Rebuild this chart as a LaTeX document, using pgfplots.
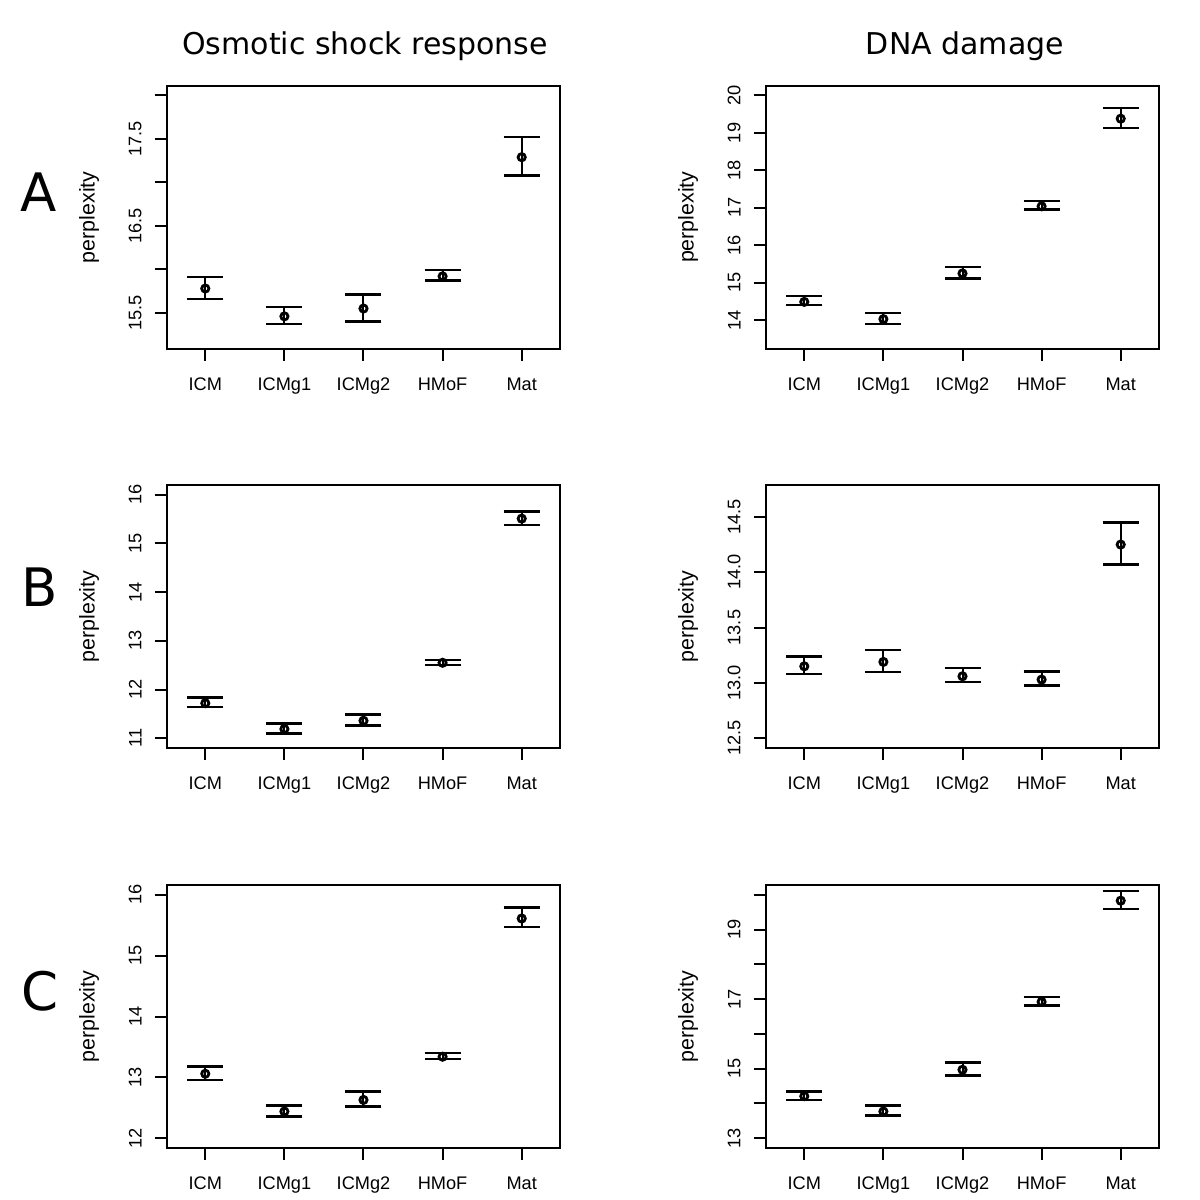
\documentclass[border=0pt]{standalone}
\usepackage{fontspec}
\setmainfont{Liberation Sans}
\newfontfamily\dejavu{DejaVu Sans}
\usepackage{pgfplots}
\usepackage{pgfplotstable}
\pgfplotsset{compat=1.18}

\pgfplotstableread{
x y ep em
1 15.78 0.135 0.12
2 15.46 0.11 0.09
3 15.55 0.16 0.15
4 15.92 0.07 0.05
5 17.29 0.23 0.21
}\osmoA
\pgfplotstableread{
x y ep em
1 14.49 0.15 0.08
2 14.03 0.17 0.13
3 15.25 0.17 0.14
4 17.04 0.14 0.08
5 19.38 0.28 0.25
}\dnaA
\pgfplotstableread{
x y ep em
1 11.72 0.12 0.08
2 11.19 0.11 0.09
3 11.36 0.13 0.10
4 12.55 0.06 0.04
5 15.51 0.15 0.13
}\osmoB
\pgfplotstableread{
x y ep em
1 13.15 0.09 0.07
2 13.19 0.11 0.09
3 13.06 0.075 0.05
4 13.03 0.075 0.055
5 14.25 0.20 0.18
}\dnaB
\pgfplotstableread{
x y ep em
1 13.06 0.12 0.10
2 12.44 0.10 0.08
3 12.63 0.14 0.11
4 13.34 0.06 0.04
5 15.61 0.18 0.14
}\osmoC
\pgfplotstableread{
x y ep em
1 14.21 0.13 0.11
2 13.77 0.17 0.12
3 14.97 0.21 0.16
4 16.92 0.14 0.10
5 19.83 0.27 0.24
}\dnaC

\pgfplotsset{
  rstyle/.style={
    scale only axis, width=196.5pt, height=131.5pt, anchor=north west,
    xmin=0.516, xmax=5.484,
    xtick={1,2,3,4,5}, xticklabels={ICM,ICMg1,ICMg2,HMoF,Mat},
    tick pos=left, tick align=outside, major tick length=6pt,
    axis line style={line width=1pt},
    every tick/.style={black, line width=1pt},
    /pgf/number format/assume math mode=true,
    xticklabel style={font=\fontsize{9.1}{10}\selectfont, inner sep=0pt, anchor=north},
    xticklabel shift=8.25pt,
    yticklabel style={font=\fontsize{9.1}{10}\selectfont, inner sep=0pt, rotate=90, anchor=south},
    yticklabel shift=6.5pt,
    ylabel={perplexity},
    ylabel style={font=\fontsize{10.7}{12}\selectfont, at={(axis description cs:0,0.5)}, anchor=center, rotate=0, yshift=39pt},
    clip=false,
  },
  rplot/.style={
    only marks, black, mark=o, mark size=1.8pt, line width=1.4pt,
    error bars/.cd, y dir=both, y explicit,
    error bar style={line width=1pt},
    error mark options={rotate=90, mark size=9pt, line width=1.2pt},
  },
}

\begin{document}
\begin{tikzpicture}
\path[use as bounding box] (0,0) rectangle (600pt,-600pt);

\node[font=\dejavu\fontsize{15}{18}\selectfont, anchor=base] at (182.5pt,-27.2pt) {Osmotic shock response};
\node[font=\dejavu\fontsize{15}{18}\selectfont, anchor=base] at (482.5pt,-27.2pt) {DNA damage};
\node[font=\dejavu\fontsize{26.5}{30}\selectfont, anchor=base] at (19.5pt,-105.9pt) {A};
\node[font=\dejavu\fontsize{26.5}{30}\selectfont, anchor=base] at (19.8pt,-303.3pt) {B};
\node[font=\dejavu\fontsize{26.5}{30}\selectfont, anchor=base] at (19.8pt,-505pt) {C};

% Row A
\begin{axis}[rstyle, at={(83.5pt,-42.85pt)}, ymin=15.088, ymax=18.112,
  ytick={15.5,16,16.5,17,17.5,18}, yticklabels={15.5,{},16.5,{},17.5,{}}]
\addplot[rplot] table[x=x, y=y, y error plus=ep, y error minus=em] {\osmoA};
\end{axis}
\begin{axis}[rstyle, at={(383pt,-42.85pt)}, ymin=13.24, ymax=20.26,
  ytick={14,15,16,17,18,19,20}, yticklabels={14,15,16,17,18,19,20}]
\addplot[rplot] table[x=x, y=y, y error plus=ep, y error minus=em] {\dnaA};
\end{axis}

% Row B
\begin{axis}[rstyle, at={(83.5pt,-242.5pt)}, ymin=10.8, ymax=16.2,
  ytick={11,12,13,14,15,16}, yticklabels={11,12,13,14,15,16}]
\addplot[rplot] table[x=x, y=y, y error plus=ep, y error minus=em] {\osmoB};
\end{axis}
\begin{axis}[rstyle, at={(383pt,-242.5pt)}, ymin=12.412, ymax=14.788,
  ytick={12.5,13,13.5,14,14.5}, yticklabels={12.5,13.0,13.5,14.0,14.5}]
\addplot[rplot] table[x=x, y=y, y error plus=ep, y error minus=em] {\dnaB};
\end{axis}

% Row C
\begin{axis}[rstyle, at={(83.5pt,-442.5pt)}, ymin=11.84, ymax=16.16,
  ytick={12,13,14,15,16}, yticklabels={12,13,14,15,16}]
\addplot[rplot] table[x=x, y=y, y error plus=ep, y error minus=em] {\osmoC};
\end{axis}
\begin{axis}[rstyle, at={(383pt,-442.5pt)}, ymin=12.72, ymax=20.28,
  ytick={13,14,15,16,17,18,19,20}, yticklabels={13,{},15,{},17,{},19,{}}]
\addplot[rplot] table[x=x, y=y, y error plus=ep, y error minus=em] {\dnaC};
\end{axis}
\end{tikzpicture}
\end{document}
